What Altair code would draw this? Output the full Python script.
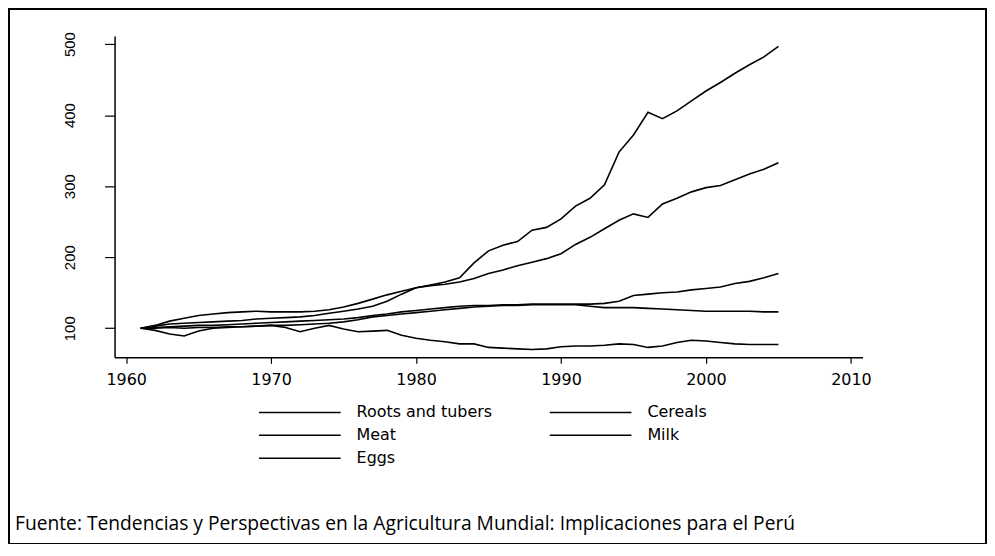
import altair as alt
import pandas as pd

years = list(range(1961, 2006))
# legend fills column by column: col 1 = Roots, Meat, Eggs; col 2 = Cereals, Milk
series_order = ["Roots and tubers", "Meat", "Eggs", "Cereals", "Milk"]

meat = [100, 104, 110, 114, 118, 120, 122, 123, 124, 123,
        123, 123, 124, 126, 130, 135, 141, 147, 152, 157,
        161, 165, 171, 192, 209, 217, 222, 238, 242, 254,
        272, 283, 302, 348, 372, 404, 395, 406, 420, 434,
        446, 459, 471, 482, 497]
eggs = [100, 103, 106, 107, 108, 109, 110, 111, 113, 114,
        115, 116, 118, 121, 124, 127, 131, 138, 148, 157,
        160, 162, 165, 170, 177, 182, 188, 193, 198, 205,
        218, 228, 240, 252, 261, 256, 275, 283, 292, 298,
        301, 309, 317, 324, 333]
milk = [100, 101, 102, 103, 104, 104, 105, 106, 107, 108,
        109, 110, 111, 112, 113, 115, 118, 120, 123, 125,
        127, 129, 131, 132, 132, 133, 133, 134, 134, 134,
        134, 134, 135, 138, 146, 148, 150, 151, 154, 156,
        158, 163, 166, 171, 177]
cereals = [100, 97, 92, 89, 96, 100, 101, 102, 103, 104,
           104, 105, 106, 107, 109, 112, 116, 118, 120, 122,
           124, 126, 128, 130, 131, 132, 132, 133, 133, 133,
           133, 131, 129, 129, 129, 128, 127, 126, 125, 124,
           124, 124, 124, 123, 123]
roots = [100, 100, 101, 100, 101, 101, 102, 102, 103, 104,
         101, 95, 100, 104, 99, 95, 96, 97, 90, 86,
         83, 81, 78, 78, 73, 72, 71, 70, 71, 74,
         75, 75, 76, 78, 77, 73, 75, 80, 83, 82,
         80, 78, 77, 77, 77]

x_ticks = [1960, 1970, 1980, 1990, 2000, 2010]
y_ticks = [100, 200, 300, 400, 500]
caption = "Fuente: Tendencias y Perspectivas en la Agricultura Mundial: Implicaciones para el Perú"

series_values = {
    "Roots and tubers": roots,
    "Cereals": cereals,
    "Meat": meat,
    "Milk": milk,
    "Eggs": eggs,
}

rows = []
for name in series_order:
    for yr, v in zip(years, series_values[name]):
        rows.append({"year": yr, "value": v, "series": name})
df = pd.DataFrame(rows)

lines = alt.Chart(df).mark_line(strokeWidth=1.6, interpolate="linear").encode(
    x=alt.X("year:Q",
            scale=alt.Scale(domain=[1959.2, 2010.8], nice=False, zero=False),
            axis=alt.Axis(values=x_ticks, format="d", title=None, grid=False,
                          labelFont="DejaVu Sans", labelFontSize=16, labelColor="black",
                          tickSize=6, tickColor="black", tickWidth=1.2,
                          domainColor="black", domainWidth=1.5, labelPadding=8,
                          labelFlush=False)),
    y=alt.Y("value:Q",
            scale=alt.Scale(domain=[59, 511.5], nice=False, zero=False),
            axis=alt.Axis(values=y_ticks, title=None, grid=False,
                          labelFont="Liberation Sans", labelFontSize=15, labelColor="black",
                          labelAngle=270, labelAlign="center", labelBaseline="bottom",
                          tickSize=10, tickColor="black", tickWidth=1.2,
                          domainColor="black", domainWidth=1.5, labelPadding=27,
                          labelFlush=False)),
    color=alt.Color("series:N",
                    scale=alt.Scale(domain=series_order, range=["black"] * 5),
                    legend=alt.Legend(title=None, orient="none", legendX=144, legendY=370,
                                      columns=2, symbolType="stroke", symbolSize=6724,
                                      symbolStrokeWidth=1.5, clipHeight=16, rowPadding=7,
                                      columnPadding=56, labelOffset=15, padding=0,
                                      labelFont="DejaVu Sans", labelFontSize=16,
                                      labelColor="black", labelLimit=300)),
)

frame = alt.Chart(pd.DataFrame({"k": [0]})).mark_rect(
    fillOpacity=0, stroke="black", strokeWidth=2
).encode(x=alt.value(-106), x2=alt.value(875), y=alt.value(-27), y2=alt.value(510))

cap = alt.Chart(pd.DataFrame({"t": [caption]})).mark_text(
    align="left", baseline="middle", font="Open Sans", fontSize=19.3, color="black"
).encode(text="t:N", x=alt.value(-100), y=alt.value(490))

chart = alt.layer(lines, frame, cap).properties(
    width=751, height=322.7,
    autosize=alt.AutoSizeParams(type="none"),
    padding={"left": 107, "top": 27, "right": 125, "bottom": 186},
).configure(background="white").configure_view(stroke="transparent", strokeWidth=0)

chart.save("out.html", embed_options={"renderer": "svg", "actions": False})
